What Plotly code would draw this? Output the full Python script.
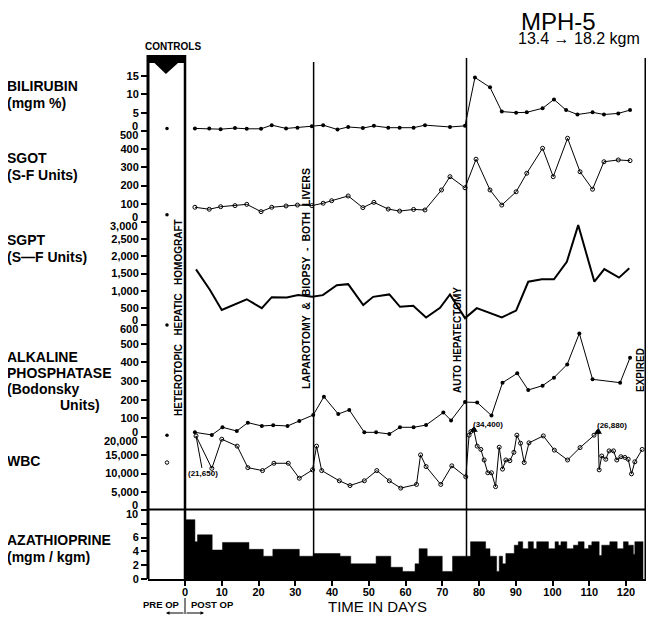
import plotly.graph_objects as go

FONT = "Liberation Sans"

# ---- data (days after operation) ----
control_day = -4.9
control_bili, control_sgot, control_sgpt, control_alk, control_wbc = 0.7, 40, 0, 10, 13000

bili_days = [2.7, 6.6, 9.7, 13.6, 16.8, 20.7, 23.6, 27.5, 30.6, 34.5, 37.6, 41.5, 44.4, 48.4, 51.4,
             55.3, 58.4, 62.2, 65.3, 72.1, 76.2, 78.9, 83.0, 86.2, 90.1, 93.0, 97.3, 100.4, 103.7,
             106.8, 110.9, 114.0, 117.9, 121.1]
bili = [0.7, 0.7, 0.5, 0.8, 0.6, 0.6, 1.6, 0.7, 0.9, 1.3, 1.6, 0.4, 1.1, 0.8, 1.4,
        0.9, 0.9, 0.9, 1.6, 1.1, 1.4, 14.6, 11.9, 5.3, 5.0, 5.1, 6.2, 8.6, 5.7,
        4.5, 5.1, 4.5, 4.8, 5.7]

sgot_days = [2.7, 6.6, 9.7, 13.6, 16.8, 20.7, 23.6, 27.5, 30.6, 34.5, 37.6, 39.9, 44.4, 48.4, 51.4,
             55.3, 58.4, 62.2, 65.3, 69.8, 72.1, 76.2, 79.2, 83.0, 86.2, 90.1, 93.0, 97.3, 100.2,
             104.1, 107.5, 110.9, 114.0, 117.9, 121.1]
sgot = [81, 70, 84, 90, 97, 57, 81, 88, 93, 90, 103, 117, 143, 79, 108,
        71, 60, 69, 66, 176, 249, 188, 345, 176, 93, 166, 268, 405, 249,
        460, 276, 180, 331, 341, 337]

sgpt_days = [3.0, 6.8, 10.0, 13.6, 16.8, 20.9, 23.6, 27.7, 30.8, 34.6, 37.5, 41.3, 44.4, 48.5, 51.2,
             55.6, 58.5, 62.1, 65.6, 69.4, 72.1, 76.2, 79.4, 86.2, 90.1, 93.4, 97.1, 100.4, 103.9,
             107.0, 111.4, 114.1, 118.1, 120.9]
sgpt = [1620, 1020, 440, 600, 750, 490, 810, 800, 870, 820, 870, 1160, 1190, 580, 820,
        890, 530, 560, 220, 500, 890, 200, 490, 220, 420, 1260, 1330, 1330, 1840,
        2910, 1260, 1630, 1380, 1650]

alk_days = [2.7, 7.3, 10.2, 14.1, 17.1, 20.9, 24.0, 27.9, 31.1, 34.9, 37.8, 41.7, 44.7, 48.8, 52.0,
            55.6, 58.5, 62.2, 65.6, 70.3, 72.4, 76.2, 79.5, 83.4, 86.4, 90.4, 93.4, 97.3, 100.4,
            104.0, 107.3, 110.9, 118.4, 121.1]
alk = [25, 11, 52, 32, 77, 59, 63, 59, 86, 118, 216, 123, 145, 25, 25,
       16, 52, 52, 64, 131, 89, 187, 185, 115, 291, 341, 252, 275, 318,
       389, 555, 309, 291, 425]

wbc_days = [3.0, 7.3, 10.0, 14.2, 17.1, 21.1, 24.2, 28.1, 31.1, 34.7, 35.8, 37.2, 42.0, 44.9, 48.8,
            52.2, 55.6, 58.7, 63.0, 64.1, 65.6, 69.6, 72.6, 76.4, 77.3, 77.8, 78.6, 79.5, 80.5,
            81.4, 82.4, 83.4, 84.5, 85.5, 86.4, 87.3, 88.4, 89.5, 90.3, 91.3, 92.3, 93.6, 97.5,
            100.5, 104.1, 107.5, 111.3, 112.4, 112.7, 113.4, 114.5, 115.4, 116.6, 117.5, 118.6,
            119.7, 120.6, 121.5, 122.4, 124.4]
wbc = [20300, 11400, 19400, 17500, 11600, 10800, 12800, 12800, 8700, 11000, 17500, 10800, 8000, 6700, 8000,
       10800, 8000, 6000, 7000, 15100, 11900, 7000, 12100, 9100, 20500, 21500, 21900, 17500, 16600,
       13700, 10200, 10200, 6400, 17200, 11200, 13700, 13500, 15800, 20500, 18300, 13000, 18400, 20300,
       16400, 13700, 17100, 20500, 21400, 11000, 14800, 13900, 16200, 16200, 13700, 14600,
       14400, 13900, 9900, 13200, 16600]
wbc_note_days = [3.0]
wbc_note_vals = [20300]
wbc_note_text = ["(21,650)"]
offscale_days = [78.6, 112.4]
offscale_vals = [21900, 21400]
offscale_text = ["(34,400)", "(26,880)"]

aza_start = [0, 2.7, 3.4, 7.4, 10.2, 17.4, 21.3, 23.9, 31.1, 34.9, 42.2, 45.1, 52.0, 56.0, 59.2,
             62.6, 63.7, 65.9, 70.0, 72.8, 77.7, 81.8, 83.0, 84.8, 85.5, 86.4, 87.3, 89.6, 90.7,
             91.9, 93.4, 94.8, 95.7, 98.9, 100.7, 101.6, 102.3, 103.9, 105.7, 107.0, 108.6, 109.8,
             110.7, 112.7, 113.4, 115.6, 117.6, 119.3, 120.6, 122.0, 122.4]
aza = [8.6, 5.4, 6.4, 4.2, 5.3, 4.3, 3.3, 4.3, 3.3, 3.7, 3.3, 2.2, 3.3, 1.7, 1.1,
       2.2, 4.4, 3.3, 1.1, 3.3, 5.4, 4.4, 3.3, 1.1, 3.3, 2.2, 3.7, 4.9, 5.4,
       4.4, 5.4, 4.4, 5.4, 4.4, 5.4, 4.9, 5.4, 4.4, 4.9, 5.4, 4.4, 4.9,
       5.4, 3.4, 4.9, 5.4, 4.4, 5.4, 4.9, 3.6, 5.4]
aza_end = 124.7

event_days = [0, 35, 76.6, 125.3]
event_text = ["HETEROTOPIC   HEPATIC   HOMOGRAFT", "LAPAROTOMY  &  BIOPSY  -  BOTH  LIVERS",
              "AUTO HEPATECTOMY", "EXPIRED"]
x_ticks = list(range(0, 121, 10))

# ---- page geometry (reference pixels; the html body adds an 8px margin) ----
OFF = 8
TOP, BOT, LEFT, RIGHT = 58, 579, 148, 646
W, H = 654 - OFF, 619 - OFF


def px_x(p):
    return (p - LEFT) / (RIGHT - LEFT)


def px_y(p):
    return (BOT - p) / (BOT - TOP)


def panel(zero_px, top_px, top_val, lo_px, hi_px):
    per = (zero_px - top_px) / top_val
    return dict(domain=[px_y(lo_px), min(1, px_y(hi_px))],
                range=[(zero_px - lo_px) / per, (zero_px - hi_px) / per])


tickfont = dict(family=FONT, size=11, color="black", weight="bold")
yax_common = dict(showgrid=False, zeroline=False, showline=False, ticks="outside", ticklen=6,
                  tickwidth=1.5, tickcolor="black", tickfont=tickfont, anchor="x", fixedrange=True)

fig = go.Figure()
line = dict(color="black", width=1)
fig.add_trace(go.Scatter(x=bili_days, y=bili, yaxis="y", mode="lines+markers", line=line,
                         marker=dict(size=4, color="black")))
fig.add_trace(go.Scatter(x=sgot_days, y=sgot, yaxis="y2", mode="lines+markers", line=line,
                         marker=dict(size=4, symbol="circle-open", color="black")))
fig.add_trace(go.Scatter(x=sgpt_days, y=sgpt, yaxis="y3", mode="lines", line=dict(color="black", width=2)))
fig.add_trace(go.Scatter(x=alk_days, y=alk, yaxis="y4", mode="lines+markers", line=line,
                         marker=dict(size=4, color="black")))
fig.add_trace(go.Scatter(x=wbc_days, y=wbc, yaxis="y5", mode="lines+markers", line=line,
                         marker=dict(size=4, symbol="circle-open", color="black")))
fig.add_trace(go.Scatter(x=offscale_days, y=offscale_vals, yaxis="y5", mode="markers",
                         marker=dict(size=7, symbol="triangle-up", color="black")))
fig.add_trace(go.Scatter(x=aza_start + [aza_end], y=aza + [aza[-1]], yaxis="y6", mode="lines",
                         line=dict(color="black", width=0.5, shape="hv"), fill="tozeroy",
                         fillcolor="black"))
for ax, val, sym in [("y", control_bili, "circle"), ("y2", control_sgot, "circle"),
                     ("y3", control_sgpt, "circle"), ("y4", control_alk, "circle"),
                     ("y5", control_wbc, "circle-open")]:
    fig.add_trace(go.Scatter(x=[control_day], y=[val], yaxis=ax, mode="markers",
                             marker=dict(size=3.5, symbol=sym, color="black"), cliponaxis=False))

fig.update_layout(
    width=W, height=H, margin=dict(l=LEFT - OFF, r=W - (RIGHT - OFF), t=TOP - OFF, b=H - (BOT - OFF)),
    plot_bgcolor="rgba(0,0,0,0)", paper_bgcolor="white", showlegend=False,
    font=dict(family=FONT, color="black"),
    xaxis=dict(range=[(LEFT - 185) / 3.675, (RIGHT - 185) / 3.675], tickvals=x_ticks, ticks="outside",
               ticklen=5, tickwidth=1.5, tickcolor="black", showline=True, linewidth=2,
               linecolor="black", showgrid=False, zeroline=False, tickfont=tickfont, anchor="y6",
               ticklabelstandoff=-3),
    yaxis=dict(**panel(131, 76, 15, 135, 58), tickvals=[5, 10, 15], **yax_common),
    yaxis2=dict(**panel(222, 131, 500, 226, 127), tickvals=[100, 200, 300, 400, 500],
                ticktext=["100", "200", "300", "400", ""], **yax_common),
    yaxis3=dict(**panel(325, 222, 3000, 330, 218), tickvals=[500, 1000, 1500, 2000, 2500, 3000],
                ticktext=["500", "1,000", "1,500", "2,000", "2,500", ""], **yax_common),
    yaxis4=dict(**panel(437, 325, 600, 441, 321), tickvals=[100, 200, 300, 400, 500, 600],
                ticktext=["100", "200", "300", "400", "500", ""], **yax_common),
    yaxis5=dict(**panel(510, 437, 20000, 510, 424), tickvals=[5000, 10000, 15000, 20000],
                ticktext=["5,000", "10,000", "15,000", ""], **yax_common),
    yaxis6=dict(**panel(579, 510, 10, 579, 510), tickvals=[0, 2, 4, 6, 8, 10],
                ticktext=["0", "2", "4", "6", "", ""], **yax_common),
)

shapes = [
    dict(type="line", xref="paper", yref="paper", x0=0, x1=0, y0=0, y1=px_y(55), line=dict(color="black", width=3)),
    dict(type="line", xref="paper", yref="paper", x0=0, x1=1, y0=px_y(509.5), y1=px_y(509.5),
         line=dict(color="black", width=2)),
    dict(type="rect", xref="x", yref="paper", x0=(LEFT - 185) / 3.675, x1=0, y0=px_y(63), y1=px_y(55),
         fillcolor="black", line=dict(width=0)),
    dict(type="path", xref="x", yref="paper",
         path=f"M -8.6 {px_y(62)} L -1.6 {px_y(62)} L -5.2 {px_y(74)} Z", fillcolor="black", line=dict(width=0)),
    dict(type="line", xref="paper", yref="paper", x0=px_x(185), x1=px_x(185), y0=px_y(598), y1=px_y(614),
         line=dict(color="black", width=1)),
]
for d, top, w in zip(event_days, [55, 62, 58, 58], [2.5, 1.5, 1.5, 2]):
    shapes.append(dict(type="line", xref="x", yref="paper", x0=d, x1=d, y0=0, y1=px_y(top),
                       line=dict(color="black", width=w)))
fig.update_layout(shapes=shapes)


def txt(text, xp, yp, size, bold=True, xanchor="left", **kw):
    fig.add_annotation(text=text, x=px_x(xp), y=px_y(yp), xref="paper", yref="paper", showarrow=False,
                       xanchor=xanchor, yanchor="middle",
                       font=dict(family=FONT, size=size, color="black", weight="bold" if bold else "normal"), **kw)


for label, yp in [("BILIRUBIN", 86), ("(mgm %)", 103), ("SGOT", 158), ("(S-F Units)", 175),
                  ("SGPT", 240), ("(S\u2014F Units)", 257), ("ALKALINE", 357), ("PHOSPHATASE", 373),
                  ("(Bodonsky", 389), ("WBC", 461), ("AZATHIOPRINE", 540), ("(mgm / kgm)", 557)]:
    txt(label, 5, yp, 14)
txt("Units)", 58, 405, 14)
txt("CONTROLS", 173, 46, 10, xanchor="center")
txt("MPH-5", 558, 21, 24, bold=False, xanchor="center", borderpad=0)
txt("13.4 \u2192 18.2 kgm", 579, 38, 16, bold=False, xanchor="center")
txt("TIME IN DAYS", 377, 606, 15, bold=False, xanchor="center")
txt("PRE OP", 161, 604, 9.5, xanchor="center")
txt("POST OP", 212, 604, 9.5, xanchor="center")
for xa, axo in [(166, 19), (204, -19)]:
    fig.add_annotation(x=px_x(xa), y=px_y(613), xref="paper", yref="paper", text="", showarrow=True,
                       ax=axo, ay=0, arrowhead=2, arrowsize=0.7, arrowwidth=1, arrowcolor="black")

# stacked boundary labels: the upper panel's 0 sits just above, the lower panel's top value just below
for upper, lower, top_val, top_text in [("y", "y2", 500, "500"), ("y2", "y3", 3000, "3,000"),
                                        ("y3", "y4", 600, "600"), ("y4", "y5", 20000, "20,000"),
                                        ("y5", "y6", 10, "10")]:
    fig.add_annotation(text="0", x=0, xref="paper", y=0, yref=upper, xanchor="right", yanchor="middle",
                       xshift=-8, yshift=5, showarrow=False, font=tickfont)
    fig.add_annotation(text=top_text, x=0, xref="paper", y=top_val, yref=lower, xanchor="right",
                       yanchor="middle", xshift=-8, yshift=-4, showarrow=False, font=tickfont)

# rotated event labels
for t, xp, yp, size in zip(event_text, [178, 306, 458, 640], [318, 279, 340, 370], [10, 10.5, 10, 10]):
    fig.add_annotation(text=t, x=px_x(xp), y=px_y(yp), xref="paper", yref="paper", textangle=-90,
                       xanchor="center", yanchor="middle", showarrow=False,
                       font=dict(family=FONT, size=size, color="black", weight="bold"))

for d, v, t in zip(wbc_note_days, wbc_note_vals, wbc_note_text):
    fig.add_annotation(x=d, y=v, xref="x", yref="y5", text=t, showarrow=True, arrowhead=0, arrowwidth=1,
                       arrowcolor="black", ax=7, ay=38, font=dict(family=FONT, size=8, weight="bold"))
for d, v, t in zip(offscale_days, offscale_vals, offscale_text):
    fig.add_annotation(x=d, y=v, xref="x", yref="y5", text=t, showarrow=False, xshift=14, yshift=6,
                       font=dict(family=FONT, size=8, weight="bold"))

fig.write_html("out.html")
